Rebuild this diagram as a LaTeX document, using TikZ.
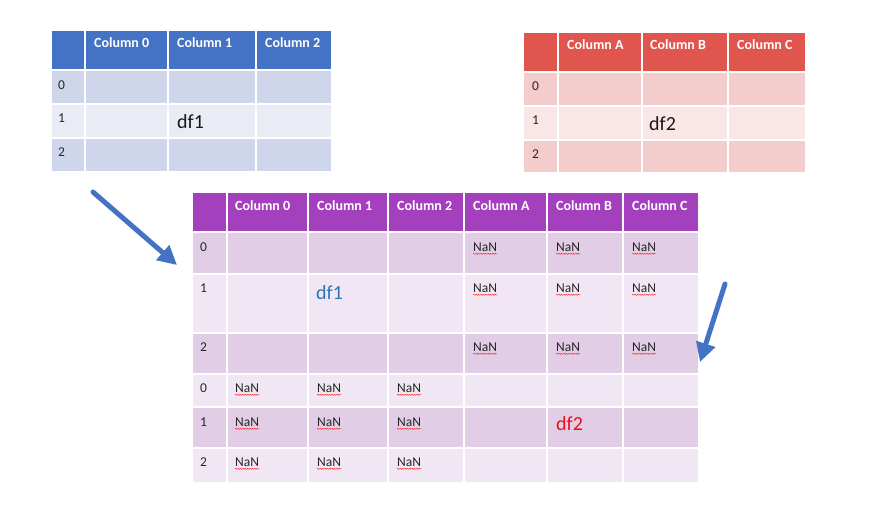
\documentclass[tikz,border=0pt]{standalone}
\usepackage{fontspec}
\setmainfont{Carlito}
\usetikzlibrary{arrows.meta,decorations.pathmorphing}
\definecolor{hblue}{HTML}{4472C4}
\definecolor{bdark}{HTML}{CFD5EA}
\definecolor{blight}{HTML}{E9EBF5}
\definecolor{hred}{HTML}{E0554D}
\definecolor{rdark}{HTML}{F2CDCC}
\definecolor{rlight}{HTML}{F9E7E7}
\definecolor{hpurple}{HTML}{A440BE}
\definecolor{pdark}{HTML}{E2CDE7}
\definecolor{plight}{HTML}{F1E7F4}
\definecolor{dfblue}{HTML}{2E74B5}
\definecolor{dfred}{HTML}{E8111A}
\definecolor{arrowblue}{HTML}{4472C4}
\tikzset{
  txt/.style={anchor=west,inner sep=0pt,font=\fontsize{13.5}{15}\selectfont,text=black!85},
  hdr/.style={anchor=west,inner sep=0pt,font=\fontsize{14}{16}\selectfont\bfseries,text=white},
  dflabel/.style={anchor=west,inner sep=0pt,font=\fontsize{20}{23}\selectfont},
  squig/.style={draw=red!85,line width=0.45pt,decorate,decoration={snake,amplitude=0.6pt,segment length=2.4pt}},
  bigarrow/.style={draw=arrowblue,line width=5pt,line cap=round,-{Triangle[length=19pt,width=19pt]}}
}
\newcommand\nanlabel[3]{\node[txt] (#1) at (#2,#3) {NaN};
  \draw[squig] ([yshift=-2.2pt]#1.south west) -- ([yshift=-2.2pt]#1.south east);}
\begin{document}
\begin{tikzpicture}[x=1pt,y=-1pt]
\useasboundingbox[fill=white] (0,0) rectangle (892,509);
% ---- top-left table (df1)
\foreach \ya/\yb/\c in {30/70/hblue,70/104/bdark,104/138/blight,138/172/bdark}
  \foreach \xa/\xb in {51/85,85/168,168/256,256/332}
    \fill[\c] (\xa+1,\ya+1) rectangle (\xb-1,\yb-1);
\node[hdr] (L-h0) at (94,43) {Column 0};
\node[hdr] (L-h1) at (177,43) {Column 1};
\node[hdr] (L-h2) at (265,43) {Column 2};
\node[txt] (L-i0) at (58,85) {0};
\node[txt] (L-i1) at (58,118) {1};
\node[txt] (L-i2) at (58,152) {2};
\node[dflabel,text=black!90] (L-df) at (177,122) {df1};
% ---- top-right table (df2)
\foreach \ya/\yb/\c in {32/72/hred,72/106/rdark,106/140/rlight,140/173/rdark}
  \foreach \xa/\xb in {523/558,558/642,642/728,728/806}
    \fill[\c] (\xa+1,\ya+1) rectangle (\xb-1,\yb-1);
\node[hdr] (R-h0) at (567,45) {Column A};
\node[hdr] (R-h1) at (650,45) {Column B};
\node[hdr] (R-h2) at (737,45) {Column C};
\node[txt] (R-i0) at (532,86) {0};
\node[txt] (R-i1) at (532,120) {1};
\node[txt] (R-i2) at (532,154) {2};
\node[dflabel,text=black!90] (R-df) at (649,124) {df2};
% ---- bottom combined table
\foreach \ya/\yb/\c in {192/232/hpurple,232/274/pdark,274/333/plight,333/374/pdark,374/407/plight,407/448/pdark,448/483/plight}
  \foreach \xa/\xb in {192/227,227/308,308/388,388/464,464/547,547/623,623/699}
    \fill[\c] (\xa+1,\ya+1) rectangle (\xb-1,\yb-1);
\node[hdr] (B-h0) at (235,206) {Column 0};
\node[hdr] (B-h1) at (317,206) {Column 1};
\node[hdr] (B-h2) at (397,206) {Column 2};
\node[hdr] (B-h3) at (473,206) {Column A};
\node[hdr] (B-h4) at (556,206) {Column B};
\node[hdr] (B-h5) at (632,206) {Column C};
\node[txt] (B-i0) at (200,247) {0};
\node[txt] (B-i1) at (200,288) {1};
\node[txt] (B-i2) at (200,347) {2};
\node[txt] (B-i3) at (200,388) {0};
\node[txt] (B-i4) at (200,422) {1};
\node[txt] (B-i5) at (200,462) {2};
\nanlabel{n00}{473}{247}\nanlabel{n01}{556}{247}\nanlabel{n02}{632}{247}
\nanlabel{n10}{473}{288}\nanlabel{n11}{556}{288}\nanlabel{n12}{632}{288}
\nanlabel{n20}{473}{347}\nanlabel{n21}{556}{347}\nanlabel{n22}{632}{347}
\nanlabel{n30}{235}{388}\nanlabel{n31}{317}{388}\nanlabel{n32}{397}{388}
\nanlabel{n40}{235}{422}\nanlabel{n41}{317}{422}\nanlabel{n42}{397}{422}
\nanlabel{n50}{235}{462}\nanlabel{n51}{317}{462}\nanlabel{n52}{397}{462}
\node[dflabel,text=dfblue] (B-df1) at (316,293) {df1};
\node[dflabel,text=dfred] (B-df2) at (556,424) {df2};
% ---- arrows
\coordinate (a1s) at (93,192);
\coordinate (a1e) at (177,265);
\coordinate (a2s) at (725,284);
\coordinate (a2e) at (700,362);
\draw[bigarrow] (a1s) -- (a1e);
\draw[bigarrow] (a2s) -- (a2e);
\end{tikzpicture}
\end{document}
